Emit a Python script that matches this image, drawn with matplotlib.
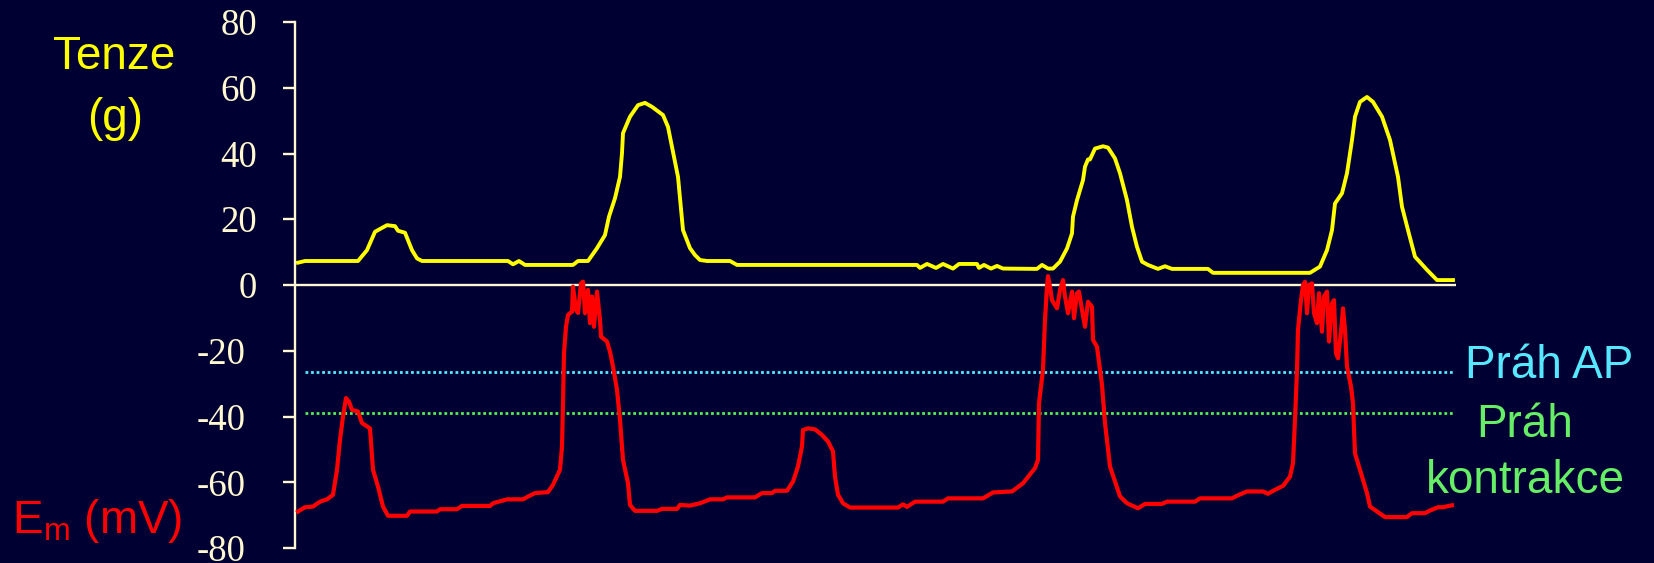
import numpy as np
import matplotlib.pyplot as plt

# tension trace (g) against time
t_tension = [3, 10, 63, 72, 80, 92, 100, 103, 110, 117, 122, 127, 213, 218, 224, 230, 278, 283, 293,
             302, 310, 314, 320, 325, 327, 328, 335, 343, 350, 357, 368, 373, 378, 383, 388, 395,
             400, 405, 412, 435, 442, 622, 625, 632, 641, 648, 658, 664, 682, 684, 689, 696, 702, 708,
             742, 747, 753, 758, 765, 772, 777, 778, 782, 788, 790, 793, 795, 800, 808, 813, 820, 825,
             832, 837, 842, 847, 853, 863, 870, 877, 913, 918, 1015, 1025, 1032, 1037, 1040, 1047,
             1052, 1057, 1060, 1065, 1072, 1078, 1087, 1095, 1103, 1107, 1113, 1120, 1132, 1142, 1158]
tension = [6.8, 7.3, 7.3, 10.6, 16.2, 18.2, 17.9, 16.5, 15.9, 10.6, 8.1, 7.3, 7.3, 6.3, 7.3, 6.1, 6.1, 7.3, 7.3,
           11.2, 15.2, 20.8, 26.4, 32.9, 40.1, 46.2, 51.2, 54.7, 55.4, 54.2, 51.7, 48.1, 40.5, 32.9, 16.7, 11.2,
           9.1, 7.6, 7.3, 7.3, 6.1, 6.1, 5.2, 6.4, 5.2, 6.4, 5.0, 6.4, 6.4, 5.2, 6.1, 5.0, 5.8, 5.0,
           4.9, 6.1, 5.0, 5.0, 7.1, 11.1, 15.7, 20.8, 25.8, 31.9, 36.0, 38.2, 38.2, 41.5, 42.2, 41.8, 38.5, 34.0,
           25.8, 17.7, 11.6, 7.1, 6.1, 4.9, 5.7, 4.9, 4.9, 3.7, 3.7, 5.6, 10.6, 16.7, 24.8, 27.9,
           34.0, 44.1, 51.2, 55.7, 57.2, 55.7, 51.2, 44.1, 32.9, 23.8, 16.7, 8.6, 4.6, 1.5, 1.5]

# membrane potential trace (mV) against time
t_em = [3, 10, 18, 25, 32, 38, 42, 45, 48, 51, 54, 57, 63, 67, 75, 78, 83, 88, 93, 112, 115, 142, 145,
        162, 167, 195, 198, 212, 228, 232, 240, 253, 258, 265, 267, 268, 269, 271, 273, 277, 278, 281,
        283, 286, 288, 290, 293, 295, 297, 299, 302, 305, 306, 312, 315, 318, 322, 325, 328, 333, 335,
        340, 362, 367, 382, 385, 395, 405, 415, 428, 432, 460, 467, 477, 480, 492, 498, 503, 507, 508,
        513, 520, 527, 533, 538, 540, 543, 548, 555, 603, 608, 612, 620, 648, 653, 688, 698, 717, 728,
        740, 743, 744, 748, 750, 752, 753, 755, 757, 762, 765, 768, 770, 773, 777, 779, 782, 784, 787,
        790, 793, 797, 798, 802, 807, 810, 815, 825, 832, 843, 850, 867, 872, 900, 905, 937, 942, 952,
        968, 973, 980, 988, 995, 998, 1000, 1002, 1003, 1006, 1008, 1010, 1012, 1014, 1017, 1019, 1022,
        1024, 1027, 1029, 1032, 1034, 1037, 1039, 1041, 1043, 1046, 1048, 1050, 1052, 1056, 1058, 1060,
        1065, 1072, 1075, 1082, 1090, 1112, 1117, 1130, 1135, 1143, 1148, 1157]
em = [-68.9, -67.6, -67.4, -65.9, -65.2, -63.8, -56.2, -47.1, -40.0, -34.4, -35.5, -38.0, -38.5, -42.0,
      -43.6, -56.2, -61.3, -67.4, -70.2, -70.2, -68.9, -68.9, -68.2, -68.2, -67.2, -67.2, -66.4, -65.2,
      -65.2, -64.5, -63.3, -63.0, -60.8, -56.2, -49.1, -36.0, -20.8, -12.7, -9.1, -8.1, -0.5, -7.6, -8.5,
      0.5, 1.0, -8.6, -1.5, -11.6, -3.5, -12.7, -2.0, -10.6, -15.7, -17.2, -20.3, -24.8, -31.9, -41.0,
      -53.2, -60.3, -66.9, -68.7, -68.7, -68.1, -68.1, -66.9, -67.1, -66.4, -65.2, -65.2, -64.6, -64.6,
      -63.3, -63.3, -62.6, -62.6, -59.8, -55.2, -49.1, -44.1, -43.6, -43.9, -45.6, -47.6, -50.6, -58.3,
      -63.8, -66.4, -67.7, -67.7, -66.7, -67.5, -65.9, -65.9, -64.9, -64.9, -63.1, -62.8, -60.3, -55.7,
      -53.2, -36.0, -25.8, -10.6, -0.5, 2.7, -0.5, -4.6, -7.1, -1.5, 1.5, -3.5, -8.6, -2.0, -10.1, -2.5,
      -2.0, -7.6, -12.7, -5.1, -6.6, -16.7, -18.8, -30.4, -42.0, -55.2, -64.3, -66.4, -67.9, -66.6,
      -66.6, -65.9, -65.9, -64.9, -64.9, -64.1, -62.8, -62.8, -63.5, -62.3, -61.1, -58.3, -54.2, -41.0,
      -25.8, -13.7, -4.6, 0.0, 1.0, -8.6, 0.0, 0.5, -8.6, -11.6, -2.5, -14.2, -3.5, -2.0, -17.2, -5.6,
      -4.6, -20.8, -22.3, -14.2, -7.1, -13.7, -24.8, -30.9, -36.0, -51.2, -56.2, -63.3, -67.4, -68.9,
      -70.6, -70.6, -69.4, -69.4, -68.6, -67.6, -67.6, -67.0]

ap_threshold = -26.5
contraction_threshold = -39.0
y_ticks = [80, 60, 40, 20, 0, -20, -40, -60, -80]

bg = '#000033'
axis_col = '#FFF8D0'
W, H = 1654, 563

plt.rcParams['font.family'] = ['Liberation Sans', 'DejaVu Sans']
plt.rcParams['mathtext.fontset'] = 'custom'
plt.rcParams['mathtext.rm'] = 'Liberation Sans'

fig = plt.figure(figsize=(W / 100, H / 100), dpi=100, facecolor=bg)
ax = fig.add_axes([295 / W, (H - 548) / H, 1170 / W, (548 - 22) / H])
ax.set_facecolor(bg)
ax.set_xlim(0, 1170)
ax.set_ylim(-80, 80)

for side in ['top', 'right', 'bottom']:
    ax.spines[side].set_visible(False)
ax.spines['left'].set_color(axis_col)
ax.spines['left'].set_linewidth(1.7)
ax.set_xticks([])
ax.set_yticks(y_ticks)
ax.set_yticklabels([])
ax.tick_params(axis='y', length=8.6, width=1.7, color=axis_col, direction='out')

# tick labels drawn by hand, negatives sit a bit further left
for v in y_ticks:
    xpos = (257 - 295) / 1170 if v >= 0 else (246 - 295) / 1170
    ax.text(xpos, v, str(v), transform=ax.get_yaxis_transform(), ha='right', va='center_baseline',
            fontsize=26.5, color=axis_col, family='Liberation Serif', clip_on=False)

ax.hlines(0, 0, 1161, color=axis_col, lw=1.7, zorder=2)
ax.hlines(ap_threshold, 10, 1160, color='#55E8FF', lw=2, linestyles=(0, (1, 1.0)), zorder=2)
ax.hlines(contraction_threshold, 10, 1160, color='#55EE55', lw=2, linestyles=(0, (1, 1.0)), zorder=2)

ax.plot(t_tension, tension, color='#FFFF00', lw=2.8, zorder=3, solid_joinstyle='round')
ax.plot(t_em, em, color='#FF0000', lw=3.0, zorder=3, solid_joinstyle='round')


def px(x, y):
    return x / W, 1 - y / H


fig.text(*px(114, 57), 'Tenze', color='#FFFF00', fontsize=33, ha='center', va='center')
fig.text(*px(115, 119), '(g)', color='#FFFF00', fontsize=33, ha='center', va='center')
fig.text(*px(12, 533), r'E$_\mathregular{m}$ (mV)', color='#FF0000', fontsize=33, ha='left', va='baseline')
fig.text(*px(1465, 378), 'Práh AP', color='#55E8FF', fontsize=33, ha='left', va='baseline')
fig.text(*px(1525, 437), 'Práh', color='#66EE66', fontsize=33, ha='center', va='baseline')
fig.text(*px(1525, 493), 'kontrakce', color='#66EE66', fontsize=33, ha='center', va='baseline')

fig.savefig('out.png', dpi=100, facecolor=bg)
